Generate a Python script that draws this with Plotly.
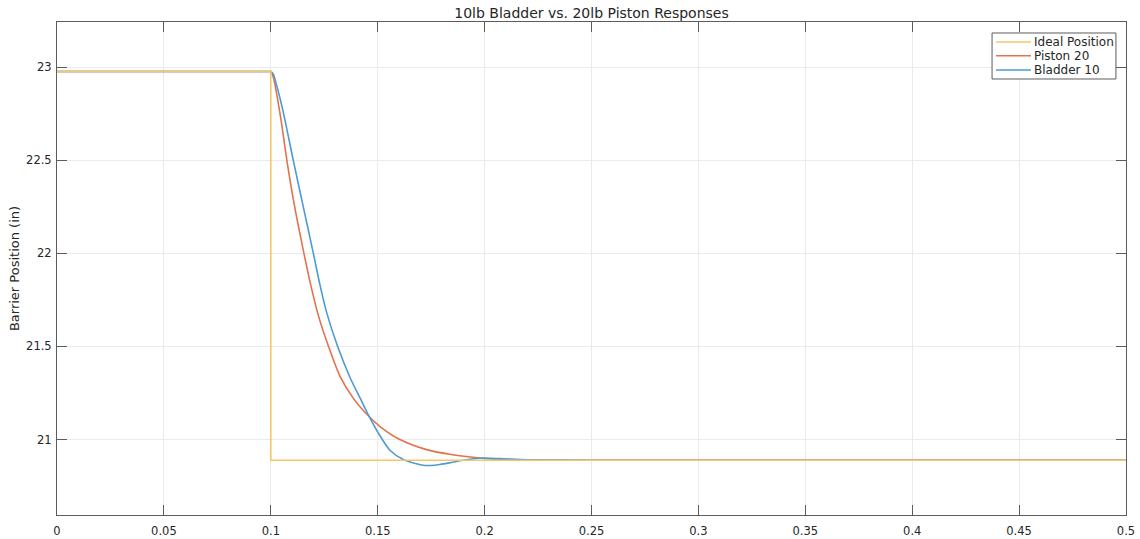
import plotly.graph_objects as go

# Step command for barrier position (in)
ideal_t = [0.0, 0.1, 0.1, 0.5]
ideal_pos = [22.976, 22.976, 20.889, 20.889]

# 20 lb piston response
piston_t = [0.0, 0.05, 0.099, 0.1, 0.1004, 0.1015, 0.1030, 0.1050, 0.1075, 0.1110, 0.1155,
            0.1185, 0.1224, 0.1270, 0.1325, 0.1387, 0.1441, 0.1511, 0.1604, 0.1728,
            0.1837, 0.2000, 0.2070, 0.2300, 0.2500, 0.3500, 0.5000]
piston_pos = [22.976, 22.976, 22.976, 22.976, 22.970, 22.93, 22.84, 22.70, 22.50, 22.26,
              22.00, 21.839, 21.66, 21.50, 21.337, 21.220, 21.145, 21.070, 21.000, 20.946,
              20.921, 20.898, 20.893, 20.890, 20.889, 20.889, 20.889]

# 10 lb bladder response
bladder_t = [0.0, 0.05, 0.099, 0.1, 0.1004, 0.1012, 0.1030, 0.1056, 0.1105, 0.1150, 0.1199,
             0.1231, 0.1262, 0.1312, 0.1371, 0.1418, 0.1449, 0.1503, 0.1557, 0.1620,
             0.1713, 0.1750, 0.1790, 0.1840, 0.1884, 0.1977, 0.2070, 0.2200, 0.2500,
             0.3500, 0.5000]
bladder_pos = [22.976, 22.976, 22.976, 22.976, 22.973, 22.962, 22.89, 22.77, 22.50, 22.26,
               22.00, 21.825, 21.679, 21.502, 21.332, 21.222, 21.149, 21.035, 20.943,
               20.893, 20.862, 20.861, 20.866, 20.876, 20.886, 20.900, 20.898, 20.892,
               20.889, 20.889, 20.889]

series_names = ["Ideal Position", "Piston 20", "Bladder 10"]
series_colors = ["#f7c66a", "#e2734c", "#4c9bd5"]

x_ticks = [0, 0.05, 0.1, 0.15, 0.2, 0.25, 0.3, 0.35, 0.4, 0.45, 0.5]
x_labels = ["0", "0.05", "0.1", "0.15", "0.2", "0.25", "0.3", "0.35", "0.4", "0.45", "0.5"]
y_ticks = [21, 21.5, 22, 22.5, 23]
y_labels = ["21", "21.5", "22", "22.5", "23"]

FONT = "DejaVu Sans"
TEXT = "#262626"
AXIS = "#5c5c5c"

fig = go.Figure()
# responses as smooth curves underneath, the step command on top with straight segments
order = [1, 2, 0]
all_t = [ideal_t, piston_t, bladder_t]
all_pos = [ideal_pos, piston_pos, bladder_pos]
line_shapes = ["linear", "spline", "spline"]
for i in order:
    fig.add_trace(go.Scatter(x=all_t[i], y=all_pos[i], mode="lines", name=series_names[i],
                             line=dict(color=series_colors[i], width=1.6,
                                       shape=line_shapes[i], smoothing=0.7),
                             showlegend=False))

axis_common = dict(
    showline=True, linecolor=AXIS, linewidth=1, mirror="ticks",
    ticks="inside", ticklen=10, tickcolor=AXIS, tickwidth=1,
    showgrid=True, gridcolor="#ebebeb", gridwidth=1, zeroline=False,
    automargin=False,
    tickfont=dict(family=FONT, size=11.5, color=TEXT),
)

# Compact boxed legend in the upper-right corner of the axes
box_x0, box_x1 = 0.8747, 0.9906
box_y0, box_y1 = 0.8844, 0.9777
row_y = [0.9594, 0.9316, 0.9026]
line_x0, line_x1 = 0.8784, 0.9111
text_x = 0.9125

shapes = [dict(type="rect", xref="paper", yref="paper", x0=box_x0, x1=box_x1,
               y0=box_y0, y1=box_y1, line=dict(color=AXIS, width=1),
               fillcolor="white", layer="above")]
annotations = []
for name, color, yy in zip(series_names, series_colors, row_y):
    shapes.append(dict(type="line", xref="paper", yref="paper", x0=line_x0, x1=line_x1,
                       y0=yy, y1=yy, line=dict(color=color, width=1.6), layer="above"))
    annotations.append(dict(text=name, xref="paper", yref="paper", x=text_x, y=yy,
                            xanchor="left", yanchor="middle", showarrow=False,
                            font=dict(family=FONT, size=12, color=TEXT)))

fig.update_layout(
    width=1140, height=539,
    margin=dict(l=57, r=14, t=22, b=24),
    paper_bgcolor="white", plot_bgcolor="white",
    font=dict(family=FONT, size=11.5, color=TEXT),
    title=dict(text="10lb Bladder vs. 20lb Piston Responses", x=0.5, xref="paper",
               y=1 - 13 / 539, yref="container", xanchor="center", yanchor="middle",
               font=dict(family=FONT, size=14, color=TEXT)),
    xaxis=dict(range=[0, 0.5], tickvals=x_ticks, ticktext=x_labels,
               ticklabelstandoff=5, **axis_common),
    yaxis=dict(range=[20.595, 23.242], tickvals=y_ticks, ticktext=y_labels,
               ticklabelstandoff=2,
               title=dict(text="Barrier Position (in)", standoff=3,
                          font=dict(family=FONT, size=13, color=TEXT)),
               **axis_common),
    shapes=shapes,
    annotations=annotations,
    showlegend=False,
)

fig.write_html("out.html")
